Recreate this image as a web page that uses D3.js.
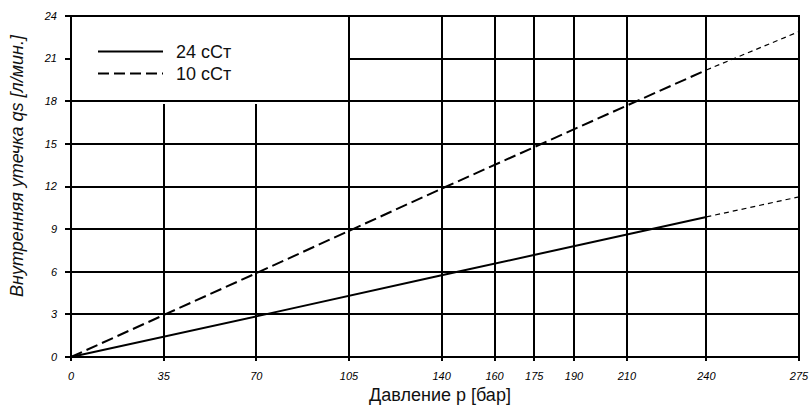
<!DOCTYPE html>
<html>
<head>
<meta charset="utf-8">
<script src="https://cdn.jsdelivr.net/npm/d3@7"></script>
<style>
  body { margin: 0; background: #fff; }
  .tick-label { font-family: "Liberation Sans", Arial, sans-serif; font-style: italic; font-size: 11px; fill: #000; }
  .title { font-family: "Liberation Sans", Arial, sans-serif; font-size: 18px; fill: #111; }
</style>
</head>
<body>
<script>

// chart data
var pressureTicks = [0, 35, 70, 105, 140, 160, 175, 190, 210, 240, 275];
var leakTicks = [0, 3, 6, 9, 12, 15, 18, 21, 24];

var visc24Pressure = [0, 70, 140, 210, 240];
var visc24Leak = [0, 2.86, 5.75, 8.62, 9.86];
var visc24ExtPressure = [240, 275];
var visc24ExtLeak = [9.86, 11.27];

var visc10Pressure = [0, 35, 70, 140, 210, 240];
var visc10Leak = [0, 2.95, 5.9, 11.85, 17.7, 20.2];
var visc10ExtPressure = [240, 275];
var visc10ExtLeak = [20.2, 22.9];

var legendLabels = ["24 cCт", "10 cCт"];

var W = 809, H = 406;
var margin = {top: 16, right: 10, bottom: 49, left: 71};

var svg = d3.select("body").append("svg")
    .attr("width", W)
    .attr("height", H);

var x = d3.scaleLinear().domain([0, 275]).range([margin.left, W - margin.right]);
var y = d3.scaleLinear().domain([0, 24]).range([H - margin.bottom, margin.top]);

// snap to whole pixels so 2px grid lines stay sharp
function sx(d) { return Math.round(x(d)); }
function sy(d) { return Math.round(y(d)); }

var grid = svg.append("g")
    .attr("stroke", "#000")
    .attr("stroke-width", 2)
    .attr("shape-rendering", "crispEdges");

// horizontal grid lines (the 21 line stops at the legend)
grid.selectAll(".hline")
    .data(leakTicks)
  .enter().append("line")
    .attr("x1", function(d) { return d == 21 ? sx(105) : sx(0) - 6; })
    .attr("x2", sx(275) + 1)
    .attr("y1", function(d) { return sy(d); })
    .attr("y2", function(d) { return sy(d); });

// left tick for the 21 level
grid.append("line")
    .attr("x1", sx(0) - 6).attr("x2", sx(0))
    .attr("y1", sy(21)).attr("y2", sy(21));

// vertical grid lines (35 and 70 stop under the legend)
grid.selectAll(".vline")
    .data(pressureTicks)
  .enter().append("line")
    .attr("x1", function(d) { return sx(d); })
    .attr("x2", function(d) { return sx(d); })
    .attr("y1", sy(0) + 4)
    .attr("y2", function(d) { return (d == 35 || d == 70) ? sy(17.8) : sy(24) - 1; });

// y tick labels
svg.append("g").selectAll("text")
    .data(leakTicks)
  .enter().append("text")
    .attr("class", "tick-label")
    .attr("x", x(0) - 14)
    .attr("y", function(d) { return y(d); })
    .attr("dy", "0.35em")
    .attr("text-anchor", "end")
    .text(function(d) { return d; });

// x tick labels
svg.append("g").selectAll("text")
    .data(pressureTicks)
  .enter().append("text")
    .attr("class", "tick-label")
    .attr("x", function(d) { return x(d); })
    .attr("y", y(0) + 23)
    .attr("text-anchor", "middle")
    .text(function(d) { return d; });

// series
var line = d3.line()
    .x(function(d) { return x(d[0]); })
    .y(function(d) { return y(d[1]); });

function pts(px, py) { return px.map(function(p, i) { return [p, py[i]]; }); }

svg.append("path")
    .datum(pts(visc24Pressure, visc24Leak))
    .attr("fill", "none").attr("stroke", "#000").attr("stroke-width", 2)
    .attr("d", line);

svg.append("path")
    .datum(pts(visc24ExtPressure, visc24ExtLeak))
    .attr("fill", "none").attr("stroke", "#000").attr("stroke-width", 1.2)
    .attr("stroke-dasharray", "5,4")
    .attr("d", line);

svg.append("path")
    .datum(pts(visc10Pressure, visc10Leak))
    .attr("fill", "none").attr("stroke", "#000").attr("stroke-width", 2)
    .attr("stroke-dasharray", "12,5")
    .attr("d", line);

svg.append("path")
    .datum(pts(visc10ExtPressure, visc10ExtLeak))
    .attr("fill", "none").attr("stroke", "#000").attr("stroke-width", 1.2)
    .attr("stroke-dasharray", "5,4")
    .attr("d", line);

// legend
var legend = svg.selectAll(".legend")
    .data(legendLabels)
  .enter().append("g")
    .attr("class", "legend")
    .attr("transform", function(d, i) { return "translate(98," + (51.5 + i * 22) + ")"; });

legend.append("line")
    .attr("x1", 0).attr("x2", 65)
    .attr("stroke", "#000").attr("stroke-width", 2)
    .attr("stroke-dasharray", function(d, i) { return i == 1 ? "11,5" : null; });

legend.append("text")
    .attr("class", "title")
    .attr("x", 78)
    .attr("dy", "0.35em")
    .text(function(d) { return d; });

// axis titles
svg.append("text")
    .attr("class", "title")
    .attr("x", 440)
    .attr("y", 401)
    .attr("text-anchor", "middle")
    .text("Давление р [бар]");

svg.append("text")
    .attr("class", "title")
    .attr("transform", "translate(23,166) rotate(-90)")
    .attr("text-anchor", "middle")
    .style("font-style", "italic")
    .text("Внутренняя утечка qs [л/мин.]");

</script>
</body>
</html>
